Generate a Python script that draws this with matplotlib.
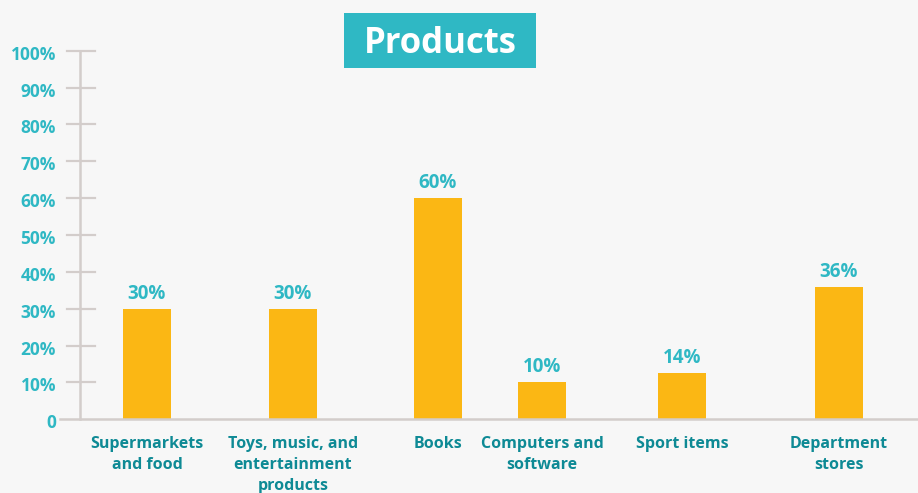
import matplotlib
matplotlib.use("Agg")
import matplotlib.pyplot as plt
from matplotlib.patches import Rectangle
import matplotlib.transforms as mtransforms

# ---- data ----
categories = ["Supermarkets\nand food", "Toys, music, and\nentertainment\nproducts", "Books",
              "Computers and\nsoftware", "Sport items", "Department\nstores"]
values = [30, 30, 60, 10, 12.5, 36]
value_labels = ["30%", "30%", "60%", "10%", "14%", "36%"]
yticks = [0, 10, 20, 30, 40, 50, 60, 70, 80, 90, 100]
ytick_labels = ["0", "10%", "20%", "30%", "40%", "50%", "60%", "70%", "80%", "90%", "100%"]
title = "Products"

# ---- layout (x positions in pixel-like units) ----
positions = [147, 293, 438, 542, 682, 839]
bar_width = 48

BG = "#f7f7f7"
BAR = "#fbb714"
TEAL = "#2fb8c4"
DARK_TEAL = "#0e8a95"
AXIS = "#d3cdcb"
FONT = "Open Sans"

W, H = 918, 493
fig = plt.figure(figsize=(W / 100, H / 100), dpi=100, facecolor=BG)
ax = fig.add_axes([60 / W, (H - 419.3) / H, (W - 60) / W, (419.3 - 50.7) / H])
ax.set_facecolor(BG)
ax.set_xlim(60, W)
ax.set_ylim(0, 100)
for s in ax.spines.values():
    s.set_visible(False)

ax.bar(positions, values, width=bar_width, color=BAR, zorder=2)

# axis lines
ax.axhline(0, color=AXIS, lw=1.8, zorder=3, clip_on=False)
ax.plot([80, 80], [0, 100], color=AXIS, lw=1.8, zorder=1, clip_on=False)
for t in yticks[1:]:
    ax.plot([67, 95], [t, t], color=AXIS, lw=1.6, zorder=1, clip_on=False)

# y labels
off_down = mtransforms.offset_copy(ax.transData, fig=fig, x=0, y=-4, units="dots")
for t, lab in zip(yticks, ytick_labels):
    ax.text(56, t, lab, transform=off_down, ha="right", va="center",
            color=TEAL, fontsize=12.5, fontweight="bold", family=FONT)

# value labels
off_up = mtransforms.offset_copy(ax.transData, fig=fig, x=0, y=5, units="dots")
for x, v, lab in zip(positions, values, value_labels):
    ax.text(x, v, lab, transform=off_up, ha="center", va="bottom",
            color=TEAL, fontsize=13.5, fontweight="bold", family=FONT)

ax.set_yticks([])
ax.set_xticks(positions)
ax.set_xticklabels(categories, color=DARK_TEAL, fontsize=11.5, fontweight="bold",
                   family=FONT, linespacing=1.42, va="top")
ax.tick_params(axis="x", length=0, pad=12)

# title box
fig.patches.append(Rectangle((344 / W, (H - 68) / H), 192 / W, 55 / H,
                             transform=fig.transFigure, facecolor=TEAL,
                             edgecolor="none", zorder=5))
fig.text(440 / W, (H - 53) / H, title, ha="center", va="baseline", color="white",
         fontsize=25, fontweight="bold", family=FONT, zorder=6)

fig.savefig("out.png", dpi=100, facecolor=BG)
